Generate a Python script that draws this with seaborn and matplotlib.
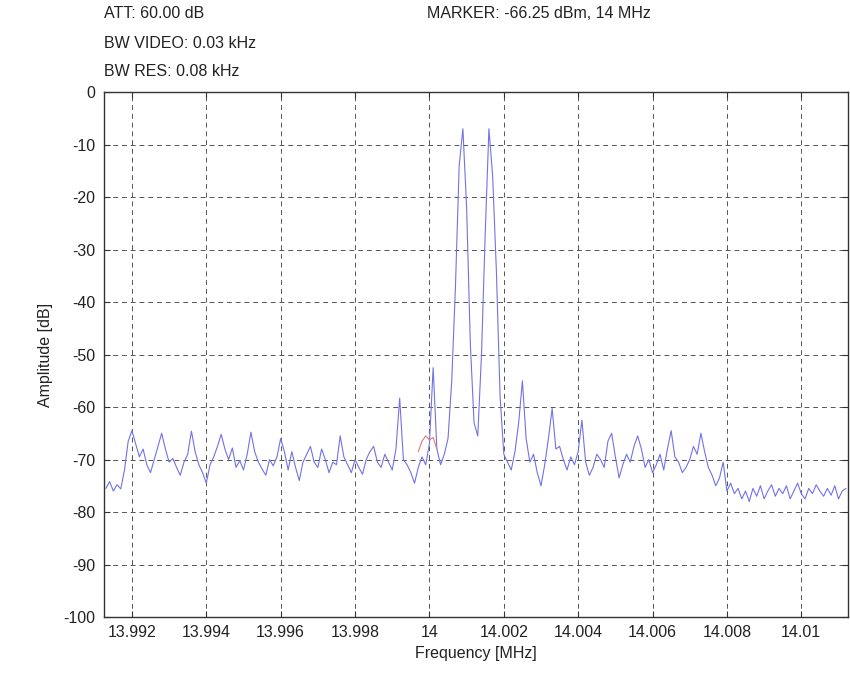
import numpy as np
import pandas as pd
import matplotlib
matplotlib.use("Agg")
import matplotlib.pyplot as plt
import seaborn as sns

# Sweep grid (MHz) and measured trace level (dB)
freq_start = 13.9913
freq_step = 0.0001
level_db = [
    -75.5, -74.2, -76.0, -74.8, -75.6, -72.0, -66.5, -64.5, -67.0, -69.5,
    -68.0, -71.0, -72.5, -70.0, -67.5, -65.0, -68.0, -70.5, -69.8, -71.5,
    -73.0, -70.5, -69.0, -64.6, -68.5, -71.0, -72.5, -74.5, -71.0, -69.5,
    -67.5, -65.2, -68.0, -70.0, -67.8, -71.5, -70.2, -72.0, -69.0, -64.8,
    -68.5, -70.5, -71.8, -73.0, -70.0, -71.2, -69.5, -66.0, -68.5, -72.0,
    -68.5, -71.5, -74.0, -70.5, -69.0, -67.5, -70.5, -71.5, -68.0, -70.0,
    -72.5, -70.5, -71.0, -65.5, -69.5, -71.0, -72.5, -70.0, -71.5, -72.8,
    -70.0, -68.5, -67.5, -70.5, -71.5, -69.0, -70.5, -72.0, -68.0, -58.3,
    -70.0, -71.0, -72.5, -74.5, -71.5, -69.5, -71.0, -67.0, -52.5, -68.0,
    -71.0, -69.0, -66.0, -55.0, -37.0, -14.0, -7.0, -22.0, -48.0, -63.0,
    -65.5, -50.0, -27.0, -7.0, -16.0, -34.0, -58.0, -69.0, -70.5, -72.0,
    -68.5, -63.0, -55.0, -66.0, -70.5, -69.0, -72.5, -75.0, -71.0, -66.0,
    -60.3, -68.0, -67.5, -70.0, -72.0, -69.5, -71.0, -68.5, -62.5, -70.5,
    -73.0, -71.5, -69.0, -70.0, -71.5, -66.5, -65.0, -69.5, -73.5, -71.0,
    -69.0, -70.5, -67.5, -65.5, -68.0, -71.5, -70.0, -72.5, -71.0, -69.0,
    -72.0, -68.0, -64.5, -69.5, -70.5, -72.5, -71.5, -70.0, -67.5, -69.0,
    -65.0, -68.5, -71.5, -73.0, -75.0, -73.5, -70.5, -76.0, -74.5, -76.5,
    -75.5, -77.5, -76.0, -78.0, -75.5, -77.0, -75.0, -77.5, -76.0, -74.8,
    -77.0, -75.5, -76.5, -75.0, -77.5, -76.0, -74.5, -76.5, -77.5, -75.5,
    -76.5, -74.8, -76.0, -77.0, -75.5, -76.8, -75.0, -77.5, -76.0, -75.5,
]

# Marker trace around the 14 MHz marker position
marker_freq = [13.9997, 13.9998, 13.9999, 14.0000, 14.0001, 14.0002]
marker_level = [-68.5, -66.5, -65.5, -66.25, -65.8, -68.0]

x_ticks = [13.992, 13.994, 13.996, 13.998, 14.0, 14.002, 14.004, 14.006, 14.008, 14.01]
x_tick_labels = ["13.992", "13.994", "13.996", "13.998", "14", "14.002",
                 "14.004", "14.006", "14.008", "14.01"]
y_ticks = [0, -10, -20, -30, -40, -50, -60, -70, -80, -90, -100]

header_left = ["ATT: 60.00 dB", "BW VIDEO: 0.03 kHz", "BW RES: 0.08 kHz"]
header_right = "MARKER: -66.25 dBm, 14 MHz"

freq = freq_start + freq_step * np.arange(len(level_db))
trace = pd.DataFrame({"freq": freq, "level": level_db})
marker = pd.DataFrame({"freq": marker_freq, "level": marker_level})

sns.set_style("white")
plt.rcParams["font.family"] = ["Liberation Sans", "DejaVu Sans"]
plt.rcParams["axes.unicode_minus"] = False

fig = plt.figure(figsize=(8.5, 6.77), dpi=100)
ax = fig.add_axes([0.1224, 0.0886, 0.875, 0.7755])

sns.lineplot(data=trace, x="freq", y="level", ax=ax, color="#7272e6",
             linewidth=0.8, estimator=None, sort=False)
sns.lineplot(data=marker, x="freq", y="level", ax=ax, color="#e07a7a",
             linewidth=0.8, estimator=None, sort=False)

ax.set_xlim(13.99125, 14.01125)
ax.set_ylim(-100, 0)
ax.set_xticks(x_ticks)
ax.set_xticklabels(x_tick_labels)
ax.set_yticks(y_ticks)
ax.tick_params(direction="in", length=4, labelsize=11.5, color="#333333",
               labelcolor="#222222", pad=6, bottom=True, left=True,
               top=True, right=True)
ax.grid(True, linestyle=(0, (5, 4)), color="#555555", linewidth=0.7)
for side in ["left", "bottom", "top", "right"]:
    ax.spines[side].set_color("#333333")
    ax.spines[side].set_linewidth(1.0)

ax.set_xlabel("Frequency [MHz]", fontsize=11.5, color="#222222", labelpad=4)
ax.set_ylabel("Amplitude [dB]", fontsize=11.5, color="#222222", labelpad=8)

for k, line in enumerate(header_left):
    fig.text(104 / 850, 1 - (14 + 29 * k) / 677, line, fontsize=11.5,
             color="#222222", va="center", ha="left")
fig.text(427 / 850, 1 - 14 / 677, header_right, fontsize=11.5,
         color="#222222", va="center", ha="left")

fig.savefig("out.png", dpi=100)
